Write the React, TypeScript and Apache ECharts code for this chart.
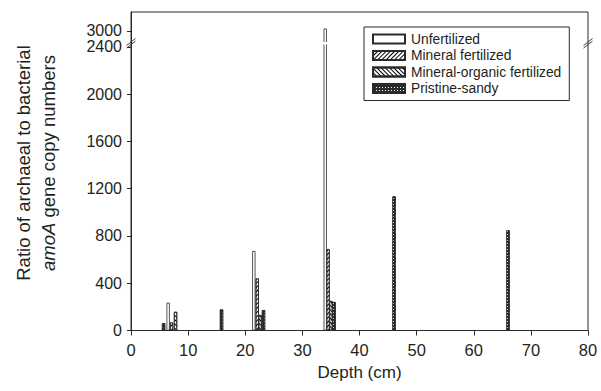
import React, { useEffect, useRef } from "react";
import * as echarts from "echarts";

const seriesNames = ["Unfertilized", "Mineral fertilized", "Mineral-organic fertilized", "Pristine-sandy"];

const depthsUnfert = [6.5, 21.5, 34.0];
const valuesUnfert = [235, 673, 3020];
const depthsMineral = [7.1, 22.1, 34.5];
const valuesMineral = [68, 440, 689];
const depthsMinOrg = [7.8, 22.6, 35.0];
const valuesMinOrg = [158, 131, 250];
const depthsPristine = [5.7, 15.85, 23.2, 35.55, 46.05, 66.0];
const valuesPristine = [62, 178, 173, 241, 1135, 848];

const xTicks = { min: 0, max: 80, interval: 10 };
const yTickValues = [0, 400, 800, 1200, 1600, 2000, 2400, 3000];

// broken axis: values above BREAK_LOW are shifted down by BREAK_SHIFT
const BREAK_LOW = 2400;
const BREAK_SHIFT = 465;
const Y_MAX_AXIS = 2695;
const BREAK_MARK_AXIS = 2430;

const toAxis = (v: number) => (v > BREAK_LOW ? v - BREAK_SHIFT : v);
const fromAxis = (v: number) => (v > BREAK_LOW ? v + BREAK_SHIFT : v);

const FONT = "'Liberation Sans', Arial, Helvetica, sans-serif";
const TXT = "#231f20";
const LINE = "#2a2a2a";

export default function App() {
  const ref = useRef<HTMLDivElement>(null);
  useEffect(() => {
    if (!ref.current) return;
    const chart = echarts.init(ref.current, undefined, { renderer: "svg" });
    const mk = (xs: number[], ys: number[]) => xs.map((x, i) => [x, toAxis(ys[i])]);
    const fills = ["#fff", "#fff", "#fff", "#2a2a2a"];
    const decals: any[] = [
      undefined,
      { symbol: "rect", symbolSize: 1, color: "#000", dashArrayX: [1, 0], dashArrayY: [1, 2], rotation: -Math.PI / 4 },
      { symbol: "rect", symbolSize: 1, color: "#000", dashArrayX: [1, 0], dashArrayY: [1, 2], rotation: Math.PI / 4 },
      { symbol: "rect", symbolSize: 1, color: "#fff", dashArrayX: [1, 2], dashArrayY: [1, 2], rotation: 0 },
    ];
    const dataSets = [
      mk(depthsUnfert, valuesUnfert),
      mk(depthsMineral, valuesMineral),
      mk(depthsMinOrg, valuesMinOrg),
      mk(depthsPristine, valuesPristine),
    ];
    const series = seriesNames.map((name, i) => ({
      type: "bar" as const,
      name,
      barWidth: 3.3,
      barGap: "-100%",
      data: dataSets[i],
      itemStyle: { color: fills[i], borderColor: LINE, borderWidth: 0.8, decal: decals[i] },
    }));
    const yCustom = yTickValues.map(toAxis);
    chart.setOption({
      animation: false,
      aria: { enabled: false, decal: { show: false } },
      grid: { left: 131, right: 13, top: 12, bottom: 60.5, show: true, borderColor: LINE, borderWidth: 1, backgroundColor: "transparent" },
      legend: {
        orient: "vertical",
        left: 364,
        top: 27,
        icon: "rect",
        itemWidth: 32,
        itemHeight: 9,
        itemGap: 2.5,
        padding: [5, 8, 5, 8],
        borderColor: LINE,
        borderWidth: 1,
        textStyle: { fontFamily: FONT, fontSize: 13.8, color: TXT, padding: [0, 0, 0, 1] },
        data: seriesNames,
      },
      xAxis: {
        type: "value",
        min: xTicks.min,
        max: xTicks.max,
        interval: xTicks.interval,
        name: "Depth (cm)",
        nameLocation: "middle",
        nameGap: 33,
        nameTextStyle: { fontFamily: FONT, fontSize: 17, color: TXT },
        axisLine: { show: true, onZero: false, lineStyle: { color: LINE, width: 1 } },
        axisTick: { show: true, inside: false, length: 5, lineStyle: { color: LINE } },
        axisLabel: { fontFamily: FONT, fontSize: 16.5, color: TXT, margin: 11 },
        splitLine: { show: false },
      },
      yAxis: {
        type: "value",
        min: 0,
        max: Y_MAX_AXIS,
        axisLine: { show: true, lineStyle: { color: LINE, width: 1 } },
        axisTick: { show: true, length: 4, customValues: yCustom, lineStyle: { color: LINE } },
        axisLabel: {
          fontFamily: FONT,
          fontSize: 16,
          lineHeight: 16,
          color: TXT,
          margin: 9,
          hideOverlap: false,
          customValues: yCustom,
          formatter: (v: number) => String(Math.round(fromAxis(v))),
        },
        splitLine: { show: false },
      },
      series,
    });

    const yb = chart.convertToPixel({ yAxisIndex: 0 }, BREAK_MARK_AXIS) as number;
    const xl = chart.convertToPixel({ xAxisIndex: 0 }, xTicks.min) as number;
    const xr = chart.convertToPixel({ xAxisIndex: 0 }, xTicks.max) as number;
    const mark = (cx: number) => [
      { type: "line", shape: { x1: cx - 4.5, y1: yb + 3.5 + 1.3, x2: cx + 4.5, y2: yb - 3.5 + 1.3 }, style: { stroke: LINE, lineWidth: 0.9 }, z: 100 },
      { type: "line", shape: { x1: cx - 4.5, y1: yb + 3.5 - 1.3, x2: cx + 4.5, y2: yb - 3.5 - 1.3 }, style: { stroke: LINE, lineWidth: 0.9 }, z: 100 },
    ];
    chart.setOption({
      graphic: [
        { type: "rect", shape: { x: xl + 1, y: yb - 1.2, width: xr - xl - 2, height: 2.4 }, style: { fill: "#fff" }, z: 3 },
        ...mark(xl),
        ...mark(xr),
        {
          type: "text",
          x: 36,
          y: 163,
          rotation: Math.PI / 2,
          z: 100,
          style: {
            text: "Ratio of archaeal to bacterial\n{i|amoA} gene copy numbers",
            fontFamily: FONT,
            fontSize: 18.5,
            fill: TXT,
            align: "center",
            verticalAlign: "middle",
            lineHeight: 25,
            rich: { i: { fontFamily: FONT, fontSize: 18.5, fontStyle: "italic", fill: TXT, lineHeight: 25 } },
          },
        },
      ],
    });
    return () => chart.dispose();
  }, []);
  return <div ref={ref} style={{ position: "fixed", left: 0, top: 0, width: 601, height: 391, background: "#fff" }} />;
}
